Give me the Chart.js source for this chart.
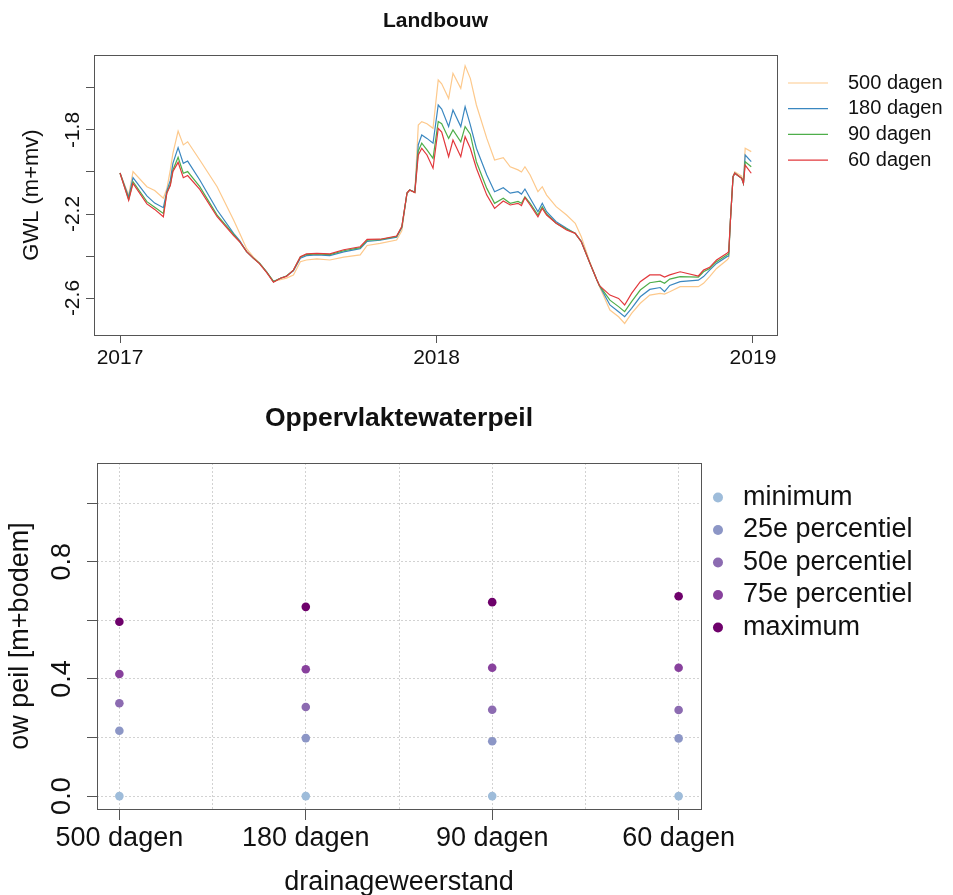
<!DOCTYPE html>
<html>
<head>
<meta charset="utf-8">
<script src="https://cdn.jsdelivr.net/npm/chart.js@4.4.1/dist/chart.umd.min.js"></script>
<style>
  html, body { margin: 0; padding: 0; background: #ffffff; width: 953px; height: 895px; overflow: hidden; }
  canvas { position: absolute; left: 0; }
  #gwlChart { top: 0; }
  #owChart { top: 390px; }
</style>
</head>
<body>
<canvas id="gwlChart" width="953" height="390"></canvas>
<canvas id="owChart" width="953" height="505"></canvas>
<script>
// ---------------- Data: Landbouw (GWL) ----------------
const dates = [
  '2017-01-01','2017-01-11','2017-01-16','2017-02-01','2017-02-10','2017-02-20','2017-02-24','2017-02-28','2017-03-03','2017-03-09',
  '2017-03-15','2017-03-20','2017-04-03','2017-04-23','2017-05-12','2017-05-19','2017-05-27','2017-06-04','2017-06-11','2017-06-19',
  '2017-06-27','2017-07-05','2017-07-12','2017-07-20','2017-07-28','2017-08-04','2017-08-16','2017-08-31','2017-09-16','2017-10-05',
  '2017-10-13','2017-10-28','2017-11-16','2017-11-22','2017-11-28','2017-12-01','2017-12-07','2017-12-11','2017-12-15','2017-12-21',
  '2017-12-28','2018-01-03','2018-01-07','2018-01-15','2018-01-20','2018-01-29','2018-02-03','2018-02-09','2018-02-16','2018-02-28',
  '2018-03-09','2018-03-19','2018-03-27','2018-04-05','2018-04-09','2018-04-13','2018-04-19','2018-04-28','2018-05-03','2018-05-08',
  '2018-05-19','2018-05-31','2018-06-10','2018-06-17','2018-06-27','2018-07-05','2018-07-08','2018-07-20','2018-07-30','2018-08-06',
  '2018-08-14','2018-08-24','2018-09-04','2018-09-16','2018-09-21','2018-09-27','2018-10-09','2018-10-30','2018-11-05','2018-11-12',
  '2018-11-20','2018-12-02','2018-12-04','2018-12-06','2018-12-09','2018-12-11','2018-12-19','2018-12-21','2018-12-23','2018-12-30'
];
const gwl500 = [
  -2.005,-2.110,-1.998,-2.070,-2.088,-2.125,-2.080,-1.990,-1.911,-1.805,
  -1.871,-1.856,-1.943,-2.070,-2.229,-2.292,-2.365,-2.405,-2.433,-2.475,
  -2.520,-2.512,-2.505,-2.490,-2.427,-2.419,-2.414,-2.419,-2.405,-2.395,
  -2.350,-2.340,-2.324,-2.280,-2.100,-2.086,-2.098,-1.776,-1.760,-1.770,
  -1.792,-1.562,-1.580,-1.650,-1.530,-1.602,-1.494,-1.554,-1.681,-1.840,
  -1.943,-1.932,-1.975,-1.990,-2.000,-1.975,-2.014,-2.094,-2.070,-2.110,
  -2.165,-2.205,-2.244,-2.308,-2.430,-2.514,-2.545,-2.657,-2.689,-2.721,
  -2.673,-2.625,-2.586,-2.578,-2.581,-2.570,-2.546,-2.546,-2.530,-2.498,
  -2.459,-2.419,-2.410,-2.229,-2.022,-2.000,-2.020,-2.050,-1.887,-1.903
];
const gwl180 = [
  -2.005,-2.120,-2.027,-2.114,-2.148,-2.170,-2.090,-2.040,-1.959,-1.884,
  -1.959,-1.948,-2.038,-2.181,-2.292,-2.327,-2.379,-2.411,-2.435,-2.475,
  -2.522,-2.506,-2.495,-2.470,-2.410,-2.398,-2.395,-2.398,-2.380,-2.365,
  -2.330,-2.325,-2.310,-2.265,-2.100,-2.086,-2.095,-1.870,-1.824,-1.840,
  -1.863,-1.681,-1.700,-1.784,-1.705,-1.784,-1.689,-1.776,-1.887,-2.014,
  -2.094,-2.075,-2.101,-2.094,-2.105,-2.081,-2.125,-2.189,-2.149,-2.189,
  -2.237,-2.268,-2.292,-2.330,-2.435,-2.514,-2.541,-2.633,-2.665,-2.689,
  -2.649,-2.594,-2.559,-2.550,-2.570,-2.540,-2.522,-2.515,-2.498,-2.467,
  -2.435,-2.403,-2.400,-2.229,-2.022,-2.006,-2.030,-2.054,-1.919,-1.951
];
const gwl90 = [
  -2.005,-2.130,-2.046,-2.141,-2.168,-2.197,-2.100,-2.060,-1.990,-1.930,
  -2.006,-1.998,-2.070,-2.205,-2.297,-2.332,-2.379,-2.411,-2.435,-2.475,
  -2.522,-2.506,-2.495,-2.467,-2.405,-2.393,-2.390,-2.393,-2.375,-2.360,
  -2.325,-2.322,-2.307,-2.262,-2.100,-2.086,-2.097,-1.900,-1.863,-1.895,
  -1.935,-1.760,-1.770,-1.840,-1.800,-1.856,-1.784,-1.820,-1.951,-2.078,
  -2.149,-2.125,-2.149,-2.140,-2.149,-2.118,-2.149,-2.205,-2.165,-2.200,
  -2.244,-2.272,-2.292,-2.332,-2.435,-2.514,-2.541,-2.610,-2.641,-2.665,
  -2.617,-2.562,-2.527,-2.520,-2.530,-2.510,-2.498,-2.500,-2.475,-2.460,
  -2.427,-2.395,-2.390,-2.229,-2.022,-2.006,-2.030,-2.054,-1.951,-1.975
];
const gwl60 = [
  -2.005,-2.135,-2.054,-2.152,-2.178,-2.213,-2.100,-2.065,-1.998,-1.954,
  -2.027,-2.017,-2.083,-2.213,-2.303,-2.332,-2.379,-2.411,-2.437,-2.478,
  -2.525,-2.506,-2.497,-2.467,-2.403,-2.390,-2.387,-2.390,-2.370,-2.356,
  -2.321,-2.320,-2.305,-2.260,-2.100,-2.086,-2.098,-1.919,-1.887,-1.919,
  -1.982,-1.792,-1.810,-1.927,-1.848,-1.927,-1.832,-1.887,-1.982,-2.110,
  -2.173,-2.138,-2.157,-2.149,-2.160,-2.122,-2.157,-2.213,-2.173,-2.205,
  -2.244,-2.276,-2.292,-2.332,-2.435,-2.514,-2.541,-2.586,-2.602,-2.633,
  -2.578,-2.522,-2.490,-2.490,-2.500,-2.490,-2.475,-2.495,-2.467,-2.454,
  -2.419,-2.387,-2.380,-2.229,-2.022,-2.006,-2.030,-2.054,-1.967,-2.006
];
const gwlSeriesLabels = ['500 dagen', '180 dagen', '90 dagen', '60 dagen'];
const yearTickDates = ['2017-01-01', '2018-01-01', '2019-01-01'];
const yearTickLabels = ['2017', '2018', '2019'];
const gwlTickValues = [-2.6, -2.4, -2.2, -2.0, -1.8, -1.6];
const gwlTickLabels = ['-2.6', '', '-2.2', '', '-1.8', ''];

// ---------------- Data: Oppervlaktewaterpeil ----------------
const categories = ['500 dagen', '180 dagen', '90 dagen', '60 dagen'];
const statLabels = ['minimum', '25e percentiel', '50e percentiel', '75e percentiel', 'maximum'];
const owMinimum = [0.000, 0.000, 0.000, 0.000];
const owP25 = [0.223, 0.198, 0.187, 0.197];
const owP50 = [0.317, 0.304, 0.295, 0.294];
const owP75 = [0.417, 0.433, 0.438, 0.438];
const owMaximum = [0.595, 0.646, 0.662, 0.682];
const owTickValues = [0, 0.2, 0.4, 0.6, 0.8, 1.0];
const owTickLabels = ['0.0', '', '0.4', '', '0.8', ''];

// ---------------- Styling ----------------
const FONT = "'Liberation Sans', Arial, Helvetica, sans-serif";
const TEXT = '#111111';
const AXIS = '#555555';
const gwlColors = ['#FDC98C', '#3A87C0', '#4EAE4A', '#E2383C'];
const statColors = ['#9EBCDA', '#8C96C6', '#8C6BB1', '#88419D', '#6E016B'];

const dayOf = s => (Date.parse(s + 'T00:00:00Z') - Date.parse('2017-01-01T00:00:00Z')) / 86400000;

// plot frame (like R's box())
const boxPlugin = {
  id: 'boxFrame',
  afterDatasetsDraw(chart) {
    const a = chart.chartArea, c = chart.ctx;
    c.save();
    c.strokeStyle = AXIS;
    c.lineWidth = 1;
    c.strokeRect(Math.round(a.left) + 0.5, Math.round(a.top) + 0.5,
                 Math.round(a.right - a.left), Math.round(a.bottom - a.top));
    c.restore();
  }
};
// place the legend block beside the plot like the original
const legendPlace = {
  id: 'legendPlace',
  afterLayout(chart, args, opts) {
    const lg = chart.legend;
    if (!lg) return;
    const pad = chart.options.plugins.legend.labels.padding;
    lg.left = opts.x - pad;
    lg.top = opts.y - pad;
    lg.right = chart.width;
    lg.bottom = chart.height;
    lg.width = lg.right - lg.left;
    lg.height = lg.bottom - lg.top;
  }
};

// ---------------- Chart 1: Landbouw ----------------
const gwlSeries = [gwl500, gwl180, gwl90, gwl60];
new Chart(document.getElementById('gwlChart'), {
  type: 'line',
  data: {
    datasets: gwlSeries.map((vals, k) => ({
      label: gwlSeriesLabels[k],
      data: vals.map((v, i) => ({ x: dayOf(dates[i]), y: v })),
      borderColor: gwlColors[k],
      backgroundColor: gwlColors[k],
      borderWidth: 1.2,
      pointRadius: 0,
      pointHoverRadius: 0,
      tension: 0,
      order: gwlSeries.length - k
    }))
  },
  options: {
    responsive: false,
    animation: false,
    devicePixelRatio: 1,
    layout: { padding: { left: 0, right: 26, top: 0, bottom: 0 } },
    plugins: {
      title: {
        display: true, fullSize: false, text: 'Landbouw', color: TEXT,
        font: { family: FONT, size: 21, weight: 'bold', lineHeight: 1.2 },
        padding: { top: 8.4, bottom: 21.4 }
      },
      legend: {
        display: true, position: 'right', align: 'start', maxWidth: 150,
        labels: {
          color: TEXT, font: { family: FONT, size: 20, lineHeight: 1.2 },
          usePointStyle: true, pointStyle: 'line', pointStyleWidth: 40, padding: 5.7,
          sort: (a, b) => a.datasetIndex - b.datasetIndex,
          generateLabels(chart) {
            const items = Chart.defaults.plugins.legend.labels.generateLabels(chart);
            items.forEach(it => { it.text = '\u2002' + it.text; });
            return items;
          }
        }
      },
      legendPlace: { x: 788, y: 73 },
      tooltip: { enabled: false }
    },
    scales: {
      x: {
        type: 'linear', position: 'bottom',
        min: -30, max: 757.7,
        afterBuildTicks: s => { s.ticks = yearTickDates.map(d => ({ value: dayOf(d) })); },
        afterFit: s => { s.height = 55; },
        ticks: {
          autoSkip: false, maxRotation: 0, color: TEXT, padding: 2.4,
          font: { family: FONT, size: 21, lineHeight: 1.2 },
          callback: (v, i) => yearTickLabels[i]
        },
        grid: { display: true, drawOnChartArea: false, drawTicks: true, tickLength: 8, tickColor: AXIS, tickWidth: 1 },
        border: { display: false }
      },
      y: {
        type: 'linear', position: 'left',
        min: -2.776, max: -1.443,
        afterBuildTicks: s => { s.ticks = gwlTickValues.map(v => ({ value: v })); },
        afterFit: s => { s.width = 94; },
        ticks: {
          autoSkip: false, color: TEXT, minRotation: 90, maxRotation: 90,
          crossAlign: 'center', padding: -4.8,
          font: { family: FONT, size: 21, lineHeight: 1.2 },
          callback: (v, i) => gwlTickLabels[i]
        },
        title: {
          display: true, text: 'GWL (m+mv)', color: TEXT,
          font: { family: FONT, size: 22, lineHeight: 1.2 },
          padding: { top: 19, bottom: 0 }
        },
        grid: { display: true, drawOnChartArea: false, drawTicks: true, tickLength: 8, tickColor: AXIS, tickWidth: 1 },
        border: { display: false }
      }
    }
  },
  plugins: [boxPlugin, legendPlace]
});

// ---------------- Chart 2: Oppervlaktewaterpeil ----------------
const owSeries = [owMinimum, owP25, owP50, owP75, owMaximum];
new Chart(document.getElementById('owChart'), {
  type: 'scatter',
  data: {
    datasets: owSeries.map((vals, k) => ({
      label: statLabels[k],
      data: vals.map((v, i) => ({ x: i + 1, y: v })),
      backgroundColor: statColors[k],
      borderColor: statColors[k],
      borderWidth: 0,
      pointRadius: 4.3,
      pointHoverRadius: 4.3
    }))
  },
  options: {
    responsive: false,
    animation: false,
    devicePixelRatio: 1,
    layout: { padding: { left: 0, right: 52, top: 0, bottom: 0 } },
    plugins: {
      title: {
        display: true, fullSize: false, text: 'Oppervlaktewaterpeil', color: TEXT,
        font: { family: FONT, size: 26.5, weight: 'bold', lineHeight: 1.2 },
        padding: { top: 13.2, bottom: 28 }
      },
      legend: {
        display: true, position: 'right', align: 'start', maxWidth: 200,
        labels: {
          color: TEXT, font: { family: FONT, size: 27, lineHeight: 1.2 },
          usePointStyle: true, pointStyle: 'circle', boxWidth: 23, boxHeight: 7.07, padding: 5.5
        }
      },
      legendPlace: { x: 706.5, y: 94 },
      tooltip: { enabled: false }
    },
    scales: {
      x: {
        type: 'linear', position: 'bottom',
        min: 0.88, max: 4.12,
        afterBuildTicks: s => { s.ticks = [1, 1.5, 2, 2.5, 3, 3.5, 4].map(v => ({ value: v })); },
        afterFit: s => { s.height = 86; },
        ticks: {
          autoSkip: false, maxRotation: 0, color: TEXT, padding: 2.4,
          font: { family: FONT, size: 27, lineHeight: 1.2 },
          callback: v => (Number.isInteger(v) ? categories[v - 1] : '')
        },
        title: {
          display: true, text: 'drainageweerstand', color: TEXT,
          font: { family: FONT, size: 27, lineHeight: 0.9 },
          padding: { top: 0, bottom: 0 }
        },
        grid: {
          display: true, drawOnChartArea: true, drawTicks: true, tickLength: 11,
          color: '#d2d2d2', lineWidth: 1,
          tickColor: c => (Number.isInteger(c.tick && c.tick.value) ? AXIS : 'rgba(0,0,0,0)'),
          tickWidth: 1
        },
        border: { display: false, dash: [2, 2] }
      },
      y: {
        type: 'linear', position: 'left',
        min: -0.044, max: 1.137,
        afterBuildTicks: s => { s.ticks = owTickValues.map(v => ({ value: v })); },
        afterFit: s => { s.width = 97; },
        ticks: {
          autoSkip: false, color: TEXT, minRotation: 90, maxRotation: 90,
          crossAlign: 'center', padding: 5.9,
          font: { family: FONT, size: 27, lineHeight: 1.2 },
          callback: (v, i) => owTickLabels[i]
        },
        title: {
          display: true, text: 'ow peil [m+bodem]', color: TEXT,
          font: { family: FONT, size: 27, lineHeight: 1.2 },
          padding: { top: 4, bottom: 0 }
        },
        grid: {
          display: true, drawOnChartArea: true, drawTicks: true, tickLength: 10,
          color: '#d2d2d2', lineWidth: 1, tickColor: AXIS, tickWidth: 1
        },
        border: { display: false, dash: [2, 2] }
      }
    }
  },
  plugins: [boxPlugin, legendPlace]
});
</script>
</body>
</html>
